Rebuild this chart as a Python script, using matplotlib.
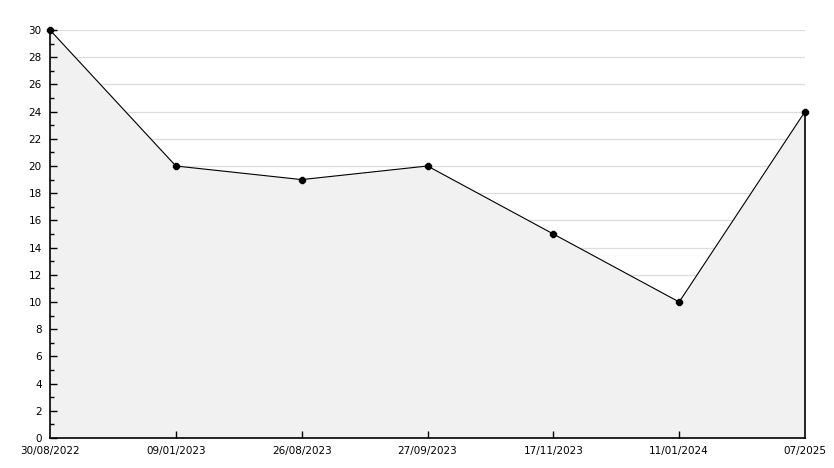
import matplotlib
matplotlib.use("Agg")
import matplotlib.pyplot as plt
from matplotlib.ticker import MultipleLocator

labels = ["30/08/2022", "09/01/2023", "26/08/2023", "27/09/2023", "17/11/2023", "11/01/2024", "07/2025"]
values = [30, 20, 19, 20, 15, 10, 24]

W, H = 834, 468
fig = plt.figure(figsize=(W / 100, H / 100), dpi=100)
ax = fig.add_axes([50 / W, 1 - 438 / H, (805 - 50) / W, (438 - 30) / H])

x = list(range(len(values)))
ax.set_xlim(0, len(values) - 1)
ax.set_ylim(0, 30)
ax.set_xticks(x)
ax.set_xticklabels(labels)
ax.yaxis.set_major_locator(MultipleLocator(2))
ax.yaxis.set_minor_locator(MultipleLocator(1))

for yv in ax.get_yticks():
    if 0 < yv <= 30:
        ax.axhline(yv, color="#dddddd", lw=0.9, zorder=0.5)

ax.fill_between(x, values, 0, color="#f1f1f1", zorder=1)
ax.plot([x[-1], x[-1]], [0, values[-1]], color="black", lw=1.2, zorder=2, clip_on=False)
ax.plot(x, values, color="black", lw=0.8, marker="8", markersize=4, zorder=3, clip_on=False)

for s in ["top", "right"]:
    ax.spines[s].set_visible(False)
for s in ["left", "bottom"]:
    ax.spines[s].set_linewidth(1.2)
    ax.spines[s].set_zorder(4)

ax.tick_params(axis="y", which="major", direction="in", length=5, width=1, labelsize=7.5, pad=6)
ax.tick_params(axis="y", which="minor", direction="in", length=3, width=1)
ax.tick_params(axis="x", which="major", direction="in", length=5, width=1, labelsize=7.5, pad=6)
for i, t in enumerate(ax.xaxis.get_major_ticks()):
    if i in (0, len(values) - 1):
        t.tick1line.set_visible(False)

fig.savefig("out.png", dpi=100)
